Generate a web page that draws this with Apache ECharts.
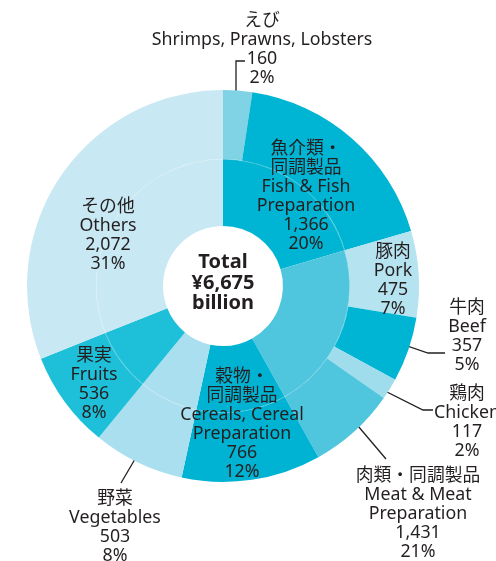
<!DOCTYPE html>
<html lang="ja">
<head>
<meta charset="UTF-8">
<title>食料品輸入の内訳</title>
<script src="https://cdn.jsdelivr.net/npm/echarts@6/dist/echarts.min.js"></script>
<style>
  html, body { margin: 0; padding: 0; background: #fff; }
  #main { width: 496px; height: 561px; }
</style>
</head>
<body>
<div id="main"></div>
<script>
// inner ring: main groups (clockwise from 12 o'clock)
var groupJa = ['魚介類・\n同調製品', '肉類・同調製品', '穀物・\n同調製品', '野菜', '果実', 'その他'];
var groupEn = ['Fish & Fish\nPreparation', 'Meat & Meat\nPreparation', 'Cereals, Cereal\nPreparation', 'Vegetables', 'Fruits', 'Others'];
var groupValues = [1366, 1431, 766, 503, 536, 2072];
var groupPct = [20, 21, 12, 8, 8, 31];
var groupColors = ['#00b5d3', '#4fc6dd', '#00b3d2', '#a9dfee', '#1ebfd9', '#c8e8f3'];

// outer ring: items split out of a group (rest of the group fills the ring)
var subJa = ['えび', '豚肉', '牛肉', '鶏肉'];
var subEn = ['Shrimps, Prawns, Lobsters', 'Pork', 'Beef', 'Chicken'];
var subValues = [160, 475, 357, 117];
var subPct = [2, 7, 5, 2];
var subGroup = [0, 1, 1, 1];
var subColors = ['#7fd3e4', '#b6e3f0', '#00b5d3', '#9fdcec'];

var totalText = 'Total\n¥6,675\nbillion';

// where each label sits, and the leader lines
var labelPos = {
  sub0: { x: 262, y: 49, line: [[236, 106], [236, 61], [245, 61]] },
  grp0: { x: 306, y: 196 },
  sub1: { x: 393, y: 280 },
  sub2: { x: 467, y: 336, line: [[387, 339], [428, 353], [445, 353]] },
  sub3: { x: 467, y: 422, line: [[373, 385], [423, 410], [433, 410]] },
  grp1: { x: 418, y: 514, line: [[347, 413], [386, 459]] },
  grp2: { x: 242, y: 424 },
  grp3: { x: 115, y: 527, line: [[145, 442], [121, 483]] },
  grp4: { x: 94, y: 384 },
  grp5: { x: 108, y: 235 }
};

function fmt(n) { return n.toLocaleString('en-US'); }

var texts = {};
var innerData = [];
var outerData = [];

function pushOuter(id, value, color) {
  var pos = labelPos[id];
  outerData.push({
    name: id,
    value: value,
    itemStyle: { color: color },
    label: { show: !!(pos && texts[id]), position: pos && pos.line ? 'outside' : 'inside' },
    labelLine: { show: !!(pos && pos.line) }
  });
}

for (var g = 0; g < groupValues.length; g++) {
  texts['grp' + g] = groupJa[g] + '\n' + groupEn[g] + '\n' + fmt(groupValues[g]) + '\n' + groupPct[g] + '%';
  innerData.push({ name: 'g' + g, value: groupValues[g], itemStyle: { color: groupColors[g] } });
  var rest = groupValues[g];
  for (var s = 0; s < subValues.length; s++) {
    if (subGroup[s] !== g) continue;
    texts['sub' + s] = subJa[s] + '\n' + subEn[s] + '\n' + fmt(subValues[s]) + '\n' + subPct[s] + '%';
    pushOuter('sub' + s, subValues[s], subColors[s]);
    rest -= subValues[s];
  }
  pushOuter('grp' + g, rest, groupColors[g]);
}

var font = '"Noto Sans", "Noto Sans CJK JP", sans-serif';
var chart = echarts.init(document.getElementById('main'));
chart.setOption({
  animation: false,
  graphic: [{
    type: 'text',
    x: 223, y: 283,
    z: 10,
    style: {
      text: totalText,
      align: 'center', verticalAlign: 'middle',
      font: 'bold 20px ' + font,
      lineHeight: 20.5,
      fill: '#231f20'
    }
  }],
  series: [
    {
      type: 'pie',
      z: 2,
      center: [223, 286],
      radius: [60, 127],
      startAngle: 90,
      silent: true,
      label: { show: false },
      labelLine: { show: false },
      data: innerData
    },
    {
      type: 'pie',
      z: 3,
      center: [223, 286],
      radius: [126.2, 127],
      silent: true,
      label: { show: false },
      labelLine: { show: false },
      itemStyle: { color: 'rgba(255,255,255,0.3)' },
      data: [{ value: 1 }]
    },
    {
      type: 'pie',
      z: 4,
      center: [223, 286],
      radius: [127, 196],
      startAngle: 90,
      silent: true,
      avoidLabelOverlap: false,
      label: {
        color: '#231f20',
        fontFamily: font,
        fontSize: 17.8,
        lineHeight: 19,
        align: 'center',
        formatter: function (p) { return texts[p.name]; }
      },
      labelLine: { lineStyle: { color: '#231f20', width: 1.3 } },
      labelLayout: function (params) {
        var pos = labelPos[outerData[params.dataIndex].name];
        if (!pos) return {};
        var o = { x: pos.x, y: pos.y, align: 'center', verticalAlign: 'middle' };
        if (pos.line) o.labelLinePoints = pos.line;
        return o;
      },
      data: outerData
    }
  ]
});
</script>
</body>
</html>
